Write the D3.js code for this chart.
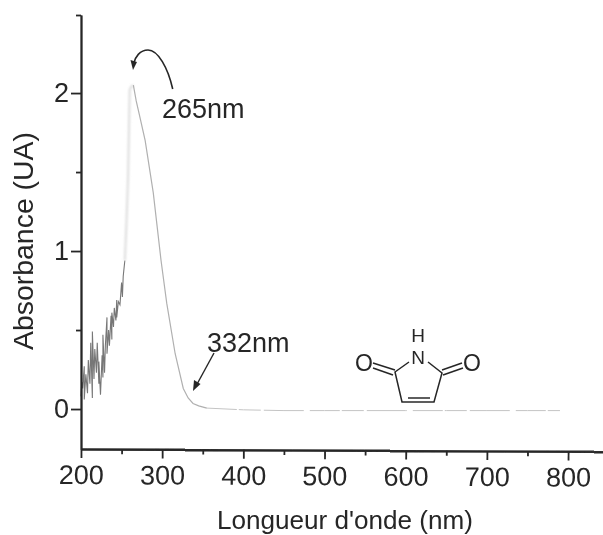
<!DOCTYPE html>
<html lang="fr">
<head>
<meta charset="utf-8">
<style>
html, body { margin: 0; padding: 0; background: #fff; }
svg { display: block; }
text { font-family: "Liberation Sans", Arial, sans-serif; fill: #262626; }
</style>
</head>
<body>
<script src="https://d3js.org/d3.v7.min.js"></script>
<script>
// noisy part of the spectrum
var noiseWl  = [200,201,202,204,204,206,208,209,211,212,214,214,216,217,219,220,222,222,224,226,227,227,229,230,232,232,234,235,237,238,238,240,241,243,244,244,246,248,250,251,252,254];
var noiseAbs = [0.08,0.17,0.13,0.27,0.06,0.22,0.10,0.31,0.16,0.42,0.07,0.49,0.19,0.38,0.23,0.42,0.16,0.30,0.09,0.34,0.20,0.47,0.23,0.40,0.58,0.35,0.50,0.40,0.59,0.44,0.61,0.52,0.64,0.56,0.69,0.58,0.68,0.66,0.80,0.71,0.84,0.94];
// main peak (rise, then fall)
var riseWl  = [254,256,258,259,260,262,264.5];
var riseAbs = [0.94,1.18,1.47,1.75,2.02,2.04,2.05];
var fallWl  = [264.5,268,272,279,289,298.6,305.6,316,326,332,338,345,355];
var fallAbs = [2.05,1.95,1.86,1.70,1.37,0.94,0.67,0.35,0.13,0.07,0.035,0.02,0.006];
// flat tail
var tailWl  = [355,400,450,500,550,600,650,700,750,790];
var tailAbs = [0.006,-0.005,-0.01,-0.01,-0.01,-0.01,-0.01,-0.01,-0.01,-0.01];

var xTicks = [200,300,400,500,600,700,800];
var xMinor = [250,350,450,550,650,750];
var yTicks = [0,1,2];
var yMinor = [0.5,1.5];

var width = 603, height = 535;
var margin = {left: 81, top: 15, right: 0, bottom: 86};

var x = d3.scaleLinear().domain([200, 843]).range([margin.left, width - margin.right]);
var y = d3.scaleLinear().domain([-0.253, 2.494]).range([height - margin.bottom, margin.top]);

var svg = d3.select('body').append('svg')
    .attr('width', width)
    .attr('height', height);

var defs = svg.append('defs');
defs.append('filter').attr('id', 'soft')
    .append('feGaussianBlur').attr('stdDeviation', 0.4);
defs.append('filter').attr('id', 'smear').attr('x', '-50%').attr('width', '200%')
    .append('feGaussianBlur').attr('stdDeviation', 0.8);

var g = svg.append('g').attr('filter', 'url(#soft)');

var line = d3.line().x(function(d) { return x(d[0]); }).y(function(d) { return y(d[1]); });

g.append('path').datum(d3.zip(noiseWl, noiseAbs))
    .attr('d', line).attr('fill', 'none').attr('stroke', '#777').attr('stroke-width', 1.1);
g.append('path').datum(d3.zip(riseWl, riseAbs))
    .attr('d', line).attr('fill', 'none').attr('stroke', '#dcdcdc').attr('stroke-width', 2).attr('filter', 'url(#smear)');
g.append('path').datum(d3.zip(fallWl, fallAbs))
    .attr('d', line).attr('fill', 'none').attr('stroke', '#b0b0b0').attr('stroke-width', 1.2);
g.append('path').datum(d3.zip(tailWl, tailAbs))
    .attr('d', line).attr('fill', 'none').attr('stroke', '#c4c4c4').attr('stroke-width', 1)
    .attr('stroke-dasharray', '30 2 22 3 40 6');

// axes (the scan is a little tilted, so the x axis drops to the right)
var xTilt = 'translate(0,' + (height - margin.bottom) + ') rotate(0.28 ' + margin.left + ' 0)';
var xAxis = g.append('g').attr('transform', xTilt)
    .call(d3.axisBottom(x).tickValues(xTicks).tickFormat(d3.format('d')).tickSize(9).tickSizeOuter(0).tickPadding(7));
var xMinorAxis = g.append('g').attr('transform', xTilt)
    .call(d3.axisBottom(x).tickValues(xMinor).tickFormat('').tickSize(5).tickSizeOuter(0));

var yAxis = g.append('g').attr('transform', 'translate(' + margin.left + ',0)')
    .call(d3.axisLeft(y).tickValues(yTicks).tickFormat(d3.format('d')).tickSize(10).tickSizeOuter(0).tickPadding(2));
// short cap at the top end of the y axis
var yMinorAxis = g.append('g').attr('transform', 'translate(' + margin.left + ',0)')
    .call(d3.axisLeft(y).tickValues(yMinor.concat(y.domain()[1])).tickFormat('').tickSize(5).tickSizeOuter(0));

[xAxis, xMinorAxis, yAxis, yMinorAxis].forEach(function(a) {
    a.selectAll('path,line').attr('stroke', '#262626').attr('stroke-width', 1.8);
    a.selectAll('text').attr('font-size', 27).attr('font-family', '"Liberation Sans", Arial, sans-serif').attr('fill', '#262626');
});

g.append('text').attr('x', 345).attr('y', 529).attr('text-anchor', 'middle')
    .attr('font-size', 26).attr('textLength', 256).attr('lengthAdjust', 'spacingAndGlyphs')
    .text("Longueur d'onde (nm)");
g.append('text').attr('transform', 'translate(33,241) rotate(-90)').attr('text-anchor', 'middle')
    .attr('font-size', 27).attr('textLength', 218).attr('lengthAdjust', 'spacingAndGlyphs')
    .text('Absorbance (UA)');

// annotations
g.append('text').attr('x', 162).attr('y', 118).attr('font-size', 27).text('265nm');
g.append('text').attr('x', 207).attr('y', 352).attr('font-size', 27).text('332nm');

g.append('path').attr('d', 'M172.7,89 C168,68 158,50 148,50 C140,50 135,57 133.5,64')
    .attr('fill', 'none').attr('stroke', '#262626').attr('stroke-width', 1.6);
g.append('path').attr('d', 'M133,70 L130.5,60 L137,62 Z').attr('fill', '#262626');
g.append('path').attr('d', 'M214,353 L196,386')
    .attr('fill', 'none').attr('stroke', '#262626').attr('stroke-width', 1.4);
g.append('path').attr('d', 'M193,391 L194,380 L200.5,384 Z').attr('fill', '#262626');

// maleimide
var mol = g.append('g').attr('fill', 'none').attr('stroke', '#262626').attr('stroke-width', 1.5);
mol.append('path').attr('d', 'M409,362 L395,372 L402,402 L434,402 L442,373 L428,362');
mol.append('path').attr('d', 'M408,398 L430,398');
mol.append('path').attr('d', 'M395,370 L373,363 M393,375 L373,368');
mol.append('path').attr('d', 'M442,370 L462,363 M443,375 L463,368');
g.append('text').attr('x', 418).attr('y', 364).attr('text-anchor', 'middle').attr('font-size', 19).text('N');
g.append('text').attr('x', 418).attr('y', 342).attr('text-anchor', 'middle').attr('font-size', 19).text('H');
g.append('text').attr('x', 364).attr('y', 371).attr('text-anchor', 'middle').attr('font-size', 23).text('O');
g.append('text').attr('x', 472).attr('y', 371).attr('text-anchor', 'middle').attr('font-size', 23).text('O');
</script>
</body>
</html>
